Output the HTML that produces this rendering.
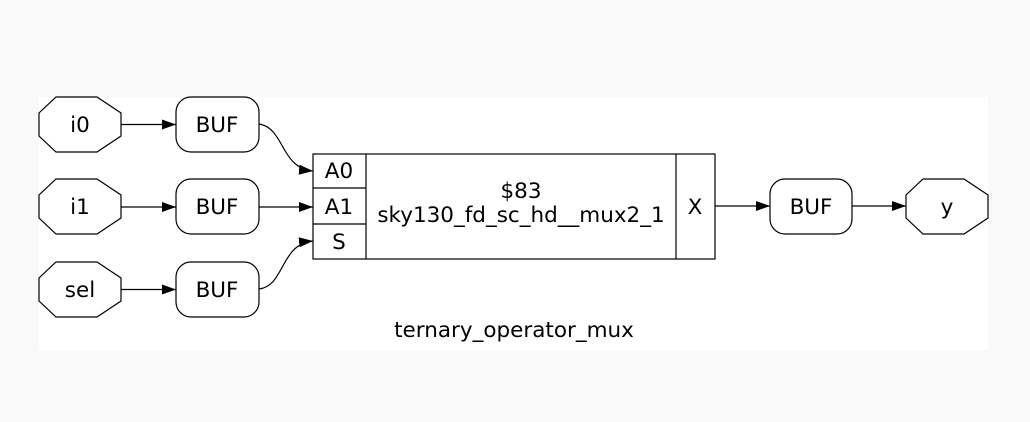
<!DOCTYPE html>
<html><head><meta charset="utf-8"><style>
html,body{margin:0;padding:0;background:#f9f9f9;width:1030px;height:422px;overflow:hidden}
text{font-family:"DejaVu Sans","Liberation Sans",sans-serif;font-size:21.5px;fill:#000}
</style></head><body>
<svg width="1030" height="422" viewBox="0 0 1030 422">
<defs><marker id="ah" markerWidth="14" markerHeight="10" refX="14" refY="5" orient="auto" markerUnits="userSpaceOnUse"><path d="M0,0 L14,5 L0,10 z" fill="#000"/></marker></defs>
<rect x="39" y="97" width="949" height="253" fill="#fff"/>
<g fill="none" stroke="#000" stroke-width="1.2">
<g><polygon points="56,97 97,97 121,113 121,136 97,152 56,152 39,136 39,113"/></g>
<g><polygon points="56,179 97,179 121,195 121,218 97,234 56,234 39,218 39,195"/></g>
<g><polygon points="56,262 97,262 121,278 121,301 97,317 56,317 39,301 39,278"/></g>
<rect x="176" y="97" width="83" height="55" rx="15"/>
<rect x="176" y="179" width="83" height="55" rx="15"/>
<rect x="176" y="262" width="83" height="55" rx="15"/>
<g>
<rect x="313" y="154" width="402" height="105"/>
<line x1="366" y1="154" x2="366" y2="259"/><line x1="676" y1="154" x2="676" y2="259"/>
<line x1="313" y1="188" x2="366" y2="188"/><line x1="313" y1="224" x2="366" y2="224"/>
</g>
<rect x="770" y="179" width="82" height="55" rx="15"/>
<g><polygon points="923,179 964,179 988,195 988,218 964,234 923,234 906,218 906,195"/></g>
<g marker-end="url(#ah)">
<path d="M121,124.5 L176,124.5"/><path d="M121,207 L176,207"/><path d="M121,289.5 L176,289.5"/>
<path d="M259,124 C285,128 280,168 313,171"/>
<path d="M259,207 L313,207"/>
<path d="M259,289 C285,286 280,244 313,241"/>
<path d="M715,206 L770,206"/><path d="M852,206 L906,206"/>
</g>
</g>
<g text-anchor="middle">
<text x="80" y="132">i0</text>
<text x="80" y="214">i1</text>
<text x="80" y="297">sel</text>
<text x="217" y="132">BUF</text>
<text x="217" y="214">BUF</text>
<text x="217" y="297">BUF</text>
<text x="339" y="178">A0</text>
<text x="339" y="214">A1</text>
<text x="339" y="249">S</text>
<text x="521" y="198">$83</text>
<text x="521" y="222">sky130_fd_sc_hd__mux2_1</text>
<text x="695" y="214">X</text>
<text x="811" y="214">BUF</text>
<text x="947" y="214">y</text>
<text x="514" y="337">ternary_operator_mux</text>
</g>
</svg>
</body></html>
